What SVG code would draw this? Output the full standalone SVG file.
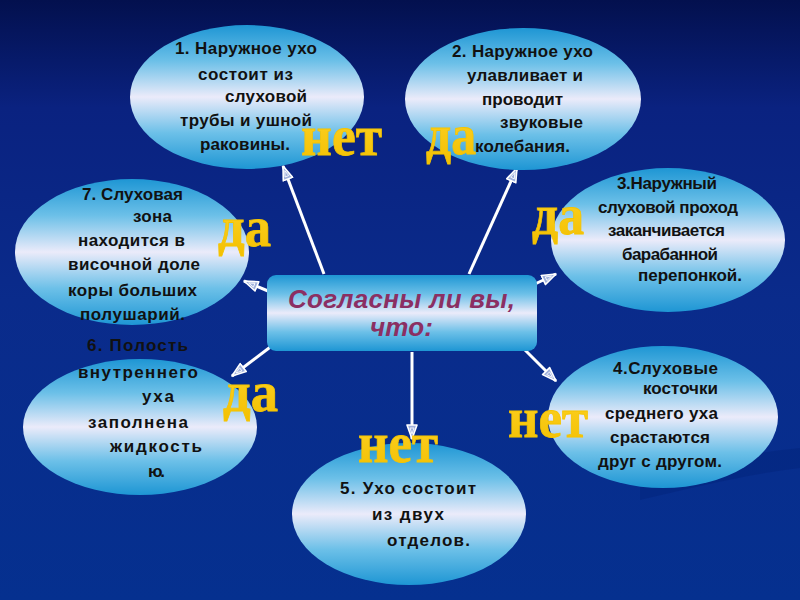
<svg xmlns="http://www.w3.org/2000/svg" width="800" height="600" viewBox="0 0 800 600">
<defs>
<linearGradient id="bg" x1="0" y1="0" x2="0" y2="1">
<stop offset="0" stop-color="#03104e"/>
<stop offset="0.18" stop-color="#0a2280"/>
<stop offset="0.5" stop-color="#0a2b8b"/>
<stop offset="1" stop-color="#05308f"/>
</linearGradient>
<linearGradient id="node" x1="0" y1="0" x2="0" y2="1">
<stop offset="0" stop-color="#1e96d4"/>
<stop offset="0.25" stop-color="#6cc0e8"/>
<stop offset="0.5" stop-color="#ebebfa"/>
<stop offset="0.75" stop-color="#6cc0e8"/>
<stop offset="1" stop-color="#1e96d4"/>
</linearGradient>
<linearGradient id="gold" x1="0" y1="0" x2="0" y2="1">
<stop offset="0" stop-color="#ffd42a"/>
<stop offset="1" stop-color="#f2bf00"/>
</linearGradient>
<marker id="ah" viewBox="0 0 16 12" refX="15" refY="6" markerWidth="16" markerHeight="12" markerUnits="userSpaceOnUse" orient="auto">
<path d="M1,1 L15,6 L1,11 Z" fill="#9fb0dc" stroke="#ffffff" stroke-width="1.6" stroke-linejoin="round"/>
<path d="M4,4 L10,6 L4,8 Z" fill="none" stroke="#ffffff" stroke-width="0.8"/>
</marker>
<style>
.n{fill:url(#node);}
.t{font-family:"Liberation Sans",Arial,sans-serif;font-weight:bold;font-size:17px;fill:#111;}
.y{font-family:"Liberation Serif","Times New Roman",serif;font-weight:bold;font-size:58px;fill:url(#gold);stroke:#f5c400;stroke-width:0.8;}
.c{font-family:"Liberation Sans",Arial,sans-serif;font-weight:bold;font-style:italic;font-size:26px;fill:#8b2f63;}
.a{stroke:#ffffff;stroke-width:3;fill:none;marker-end:url(#ah);}
</style>
</defs>
<rect x="0" y="0" width="800" height="600" fill="url(#bg)"/>
<path d="M640,478 C700,462 760,452 800,448 L800,468 C750,474 700,486 640,500 Z" fill="#001f70" opacity="0.3"/>

<g id="connectors">
<line class="a" x1="324" y1="274" x2="283" y2="166"/>
<line class="a" x1="469" y1="274" x2="517" y2="168"/>
<line class="a" x1="268" y1="291" x2="244" y2="281"/>
<line class="a" x1="535" y1="284" x2="556" y2="274"/>
<line class="a" x1="273" y1="345" x2="232" y2="376"/>
<line class="a" x1="525" y1="350" x2="556" y2="381"/>
<line class="a" x1="412" y1="352" x2="412" y2="439"/>
</g>

<g id="node1">
<ellipse class="n" cx="247" cy="97" rx="117" ry="72"/>
<text class="t" x="175" y="54" textLength="142" lengthAdjust="spacing">1. Наружное ухо</text>
<text class="t" x="198" y="80" textLength="95" lengthAdjust="spacing">состоит из</text>
<text class="t" x="225" y="102" textLength="82" lengthAdjust="spacing">слуховой</text>
<text class="t" x="180" y="126" textLength="132" lengthAdjust="spacing">трубы и ушной</text>
<text class="t" x="200" y="150" textLength="90" lengthAdjust="spacing">раковины.</text>
<text class="y" x="301" y="155" textLength="81" lengthAdjust="spacingAndGlyphs">нет</text>
</g>

<g id="node2">
<ellipse class="n" cx="523" cy="99" rx="118" ry="71"/>
<text class="t" x="452" y="57" textLength="141" lengthAdjust="spacing">2. Наружное ухо</text>
<text class="t" x="467" y="81" textLength="116" lengthAdjust="spacing">улавливает и</text>
<text class="t" x="482" y="105" textLength="81" lengthAdjust="spacing">проводит</text>
<text class="t" x="500" y="128" textLength="83" lengthAdjust="spacing">звуковые</text>
<text class="t" x="475" y="152" textLength="95" lengthAdjust="spacing">колебания.</text>
<text class="y" x="426" y="154" textLength="50" lengthAdjust="spacingAndGlyphs">да</text>
</g>

<g id="node3">
<ellipse class="n" cx="668" cy="240" rx="117" ry="72"/>
<text class="t" x="617" y="189" textLength="100" lengthAdjust="spacing">3.Наружный</text>
<text class="t" x="598" y="213" textLength="140" lengthAdjust="spacing">слуховой проход</text>
<text class="t" x="608" y="236" textLength="117" lengthAdjust="spacing">заканчивается</text>
<text class="t" x="622" y="260" textLength="96" lengthAdjust="spacing">барабанной</text>
<text class="t" x="638" y="281" textLength="104" lengthAdjust="spacing">перепонкой.</text>
<text class="y" x="532" y="234" textLength="52" lengthAdjust="spacingAndGlyphs">да</text>
</g>

<g id="node4">
<ellipse class="n" cx="663" cy="417" rx="115" ry="71"/>
<text class="t" x="613" y="374" textLength="105" lengthAdjust="spacing">4.Слуховые</text>
<text class="t" x="643" y="394" textLength="75" lengthAdjust="spacing">косточки</text>
<text class="t" x="605" y="419" textLength="113" lengthAdjust="spacing">среднего уха</text>
<text class="t" x="610" y="443" textLength="100" lengthAdjust="spacing">срастаются</text>
<text class="t" x="598" y="467" textLength="124" lengthAdjust="spacing">друг с другом.</text>
<text class="y" x="508" y="437" textLength="80" lengthAdjust="spacingAndGlyphs">нет</text>
</g>

<g id="node5">
<ellipse class="n" cx="409" cy="514" rx="117" ry="71"/>
<text class="t" x="340" y="494" textLength="136" lengthAdjust="spacing">5. Ухо состоит</text>
<text class="t" x="372" y="520" textLength="72" lengthAdjust="spacing">из двух</text>
<text class="t" x="387" y="546" textLength="83" lengthAdjust="spacing">отделов.</text>
<text class="y" x="358" y="462" textLength="80" lengthAdjust="spacingAndGlyphs">нет</text>
</g>

<g id="node6">
<ellipse class="n" cx="140" cy="427" rx="117" ry="68"/>
<text class="t" x="87" y="351" textLength="101" lengthAdjust="spacing">6. Полость</text>
<text class="t" x="78" y="378" textLength="120" lengthAdjust="spacing">внутреннего</text>
<text class="t" x="142" y="402" textLength="32" lengthAdjust="spacing">уха</text>
<text class="t" x="88" y="428" textLength="100" lengthAdjust="spacing">заполнена</text>
<text class="t" x="110" y="452" textLength="92" lengthAdjust="spacing">жидкость</text>
<text class="t" x="148" y="477" textLength="17" lengthAdjust="spacing">ю.</text>
<text class="y" x="223" y="411" textLength="55" lengthAdjust="spacingAndGlyphs">да</text>
</g>

<g id="node7">
<ellipse class="n" cx="132" cy="252" rx="117" ry="73"/>
<text class="t" x="82" y="200" textLength="101" lengthAdjust="spacing">7. Слуховая</text>
<text class="t" x="133" y="222" textLength="39" lengthAdjust="spacing">зона</text>
<text class="t" x="78" y="246" textLength="107" lengthAdjust="spacing">находится в</text>
<text class="t" x="68" y="270" textLength="132" lengthAdjust="spacing">височной доле</text>
<text class="t" x="68" y="296" textLength="129" lengthAdjust="spacing">коры больших</text>
<text class="t" x="80" y="320" textLength="105" lengthAdjust="spacing">полушарий.</text>
<text class="y" x="218" y="246" textLength="53" lengthAdjust="spacingAndGlyphs">да</text>
</g>

<g id="center">
<rect class="n" x="267" y="275" width="270" height="76" rx="9"/>
<text class="c" x="288" y="308" textLength="227" lengthAdjust="spacing">Согласны ли вы,</text>
<text class="c" x="370" y="336" textLength="63" lengthAdjust="spacing">что:</text>
</g>
</svg>
